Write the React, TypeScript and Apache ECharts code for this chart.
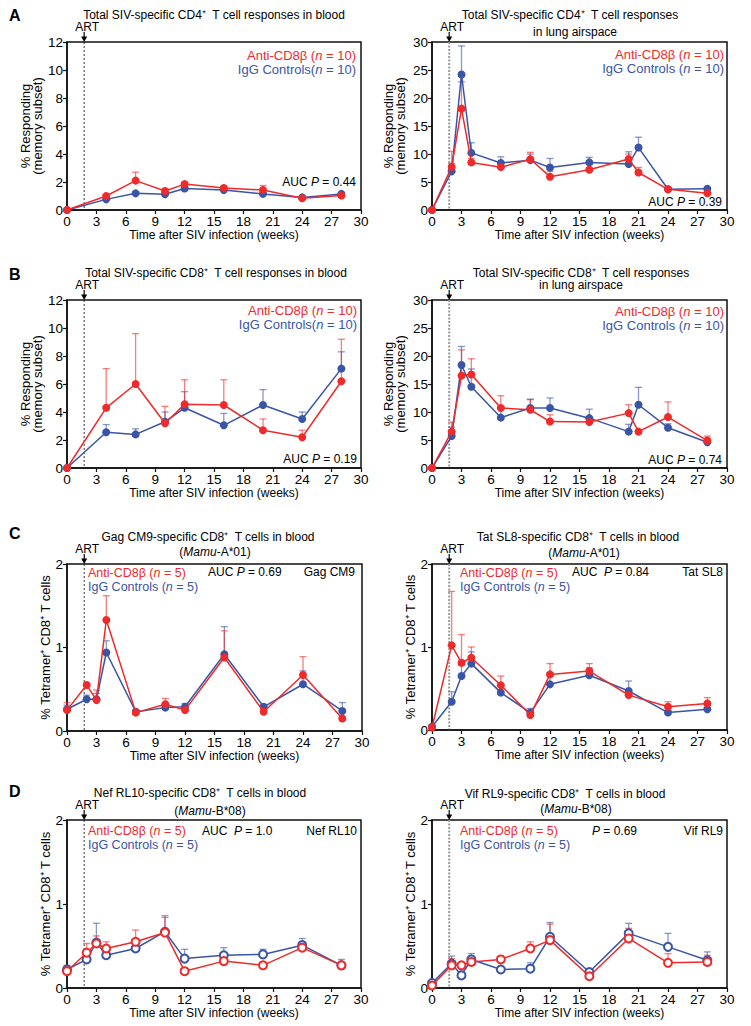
import React, { useEffect, useRef } from "react";
import * as echarts from "echarts";

const FONT = "'Liberation Sans', Arial, Helvetica, sans-serif";
const RED = "#EE2A2A";
const BLUE = "#3A55A5";
const RED_ERR = "rgba(238,42,42,0.6)";
const BLUE_ERR = "rgba(58,85,165,0.6)";
const ART_WEEK = 1.75;

// x positions (weeks after SIV infection)
const weeksBlood = [0, 4, 7, 10, 12, 16, 20, 24, 28];
const weeksLung = [0, 2, 3, 4, 7, 10, 12, 16, 20, 21, 24, 28];
const weeksTet = [0, 2, 3, 4, 7, 10, 12, 16, 20, 24, 28];

// A left: CD4 blood
const cd4BloodAnti = [0, 1.0, 2.1, 1.36, 1.85, 1.57, 1.43, 0.84, 1.03];
const cd4BloodAntiUp = [null, 1.1, 2.7, 1.5, 2.0, 1.72, 1.75, 0.9, 1.1];
const cd4BloodIgG = [0, 0.76, 1.19, 1.12, 1.53, 1.43, 1.15, 0.9, 1.15];
const cd4BloodIgGUp = [null, 0.85, 1.3, 1.2, 1.62, 1.55, 1.25, 1.0, 1.25];

// A right: CD4 lung
const cd4LungAnti = [0, 7.7, 18.1, 8.5, 7.65, 9.06, 5.95, 7.2, 9.1, 6.7, 3.7, 3.0];
const cd4LungAntiUp = [null, 10.5, 22.9, 9.2, 8.6, 10.3, 6.9, 7.6, 10.0, 7.6, 3.9, 3.2];
const cd4LungIgG = [0, 6.9, 24.2, 10.2, 8.4, 8.9, 7.6, 8.5, 8.2, 11.15, 3.7, 3.8];
const cd4LungIgGUp = [null, 8.3, 29.3, 12.0, 9.5, 10.0, 9.2, 9.4, 10.4, 13.0, 3.9, 4.0];

// B left: CD8 blood
const cd8BloodAnti = [0, 4.3, 6.0, 3.2, 4.55, 4.5, 2.7, 2.2, 6.2];
const cd8BloodAntiUp = [null, 7.1, 9.6, 4.4, 6.3, 6.3, 3.5, 2.7, 9.2];
const cd8BloodIgG = [0, 2.55, 2.4, 3.3, 4.3, 3.05, 4.5, 3.5, 7.1];
const cd8BloodIgGUp = [null, 3.1, 2.8, 4.0, 5.45, 3.9, 5.6, 4.0, 8.3];

// B right: CD8 lung
const cd8LungAnti = [0, 6.5, 16.5, 16.7, 10.7, 10.4, 8.3, 8.2, 9.8, 6.5, 9.1, 4.9];
const cd8LungAntiUp = [null, 8.2, 21.1, 19.5, 12.9, 12.2, 9.5, 8.6, 11.3, 6.8, 11.8, 5.7];
const cd8LungIgG = [0, 5.7, 18.4, 14.5, 9.0, 10.7, 10.7, 8.9, 6.5, 11.3, 7.2, 4.6];
const cd8LungIgGUp = [null, 7.3, 21.7, 17.7, 11.0, 12.3, 12.5, 10.5, 7.8, 14.4, 7.9, 4.9];

// C left: Gag CM9
const gagAnti = [0.25, 0.55, 0.37, 1.33, 0.22, 0.32, 0.25, 0.88, 0.23, 0.67, 0.15];
const gagAntiUp = [0.34, 0.57, 0.49, 1.62, 0.25, 0.39, 0.27, 1.2, 0.25, 0.89, 0.17];
const gagIgG = [0.26, 0.38, 0.38, 0.94, 0.23, 0.28, 0.29, 0.92, 0.29, 0.56, 0.24];
const gagIgGUp = [0.31, 0.43, 0.45, 1.08, 0.25, 0.3, 0.33, 1.25, 0.31, 0.72, 0.34];

// C right: Tat SL8
const tatAnti = [0.03, 1.02, 0.81, 0.87, 0.54, 0.18, 0.67, 0.71, 0.42, 0.28, 0.32];
const tatAntiUp = [0.05, 1.67, 1.15, 1.0, 0.65, 0.2, 0.8, 0.8, 0.45, 0.34, 0.39];
const tatIgG = [0.04, 0.34, 0.65, 0.8, 0.45, 0.21, 0.55, 0.66, 0.47, 0.21, 0.25];
const tatIgGUp = [0.06, 0.46, 0.78, 0.94, 0.48, 0.26, 0.69, 0.75, 0.59, 0.23, 0.27];

// D left: Nef RL10
const nefAnti = [0.2, 0.42, 0.53, 0.47, 0.55, 0.66, 0.2, 0.32, 0.27, 0.48, 0.27];
const nefAntiUp = [0.22, 0.53, 0.62, 0.55, 0.69, 0.84, 0.22, 0.35, 0.31, 0.55, 0.3];
const nefIgG = [0.22, 0.34, 0.54, 0.39, 0.47, 0.67, 0.35, 0.39, 0.4, 0.51, 0.27];
const nefIgGUp = [0.27, 0.36, 0.77, 0.41, 0.49, 0.86, 0.46, 0.48, 0.46, 0.59, 0.34];

// D right: Vif RL9
const vifAnti = [0.03, 0.27, 0.27, 0.31, 0.34, 0.47, 0.57, 0.14, 0.59, 0.3, 0.31];
const vifAntiUp = [0.04, 0.35, 0.3, 0.33, 0.37, 0.55, 0.76, 0.16, 0.71, 0.41, 0.39];
const vifIgG = [0.06, 0.29, 0.15, 0.34, 0.22, 0.23, 0.61, 0.19, 0.65, 0.49, 0.33];
const vifIgGUp = [0.07, 0.38, 0.2, 0.41, 0.25, 0.3, 0.78, 0.2, 0.77, 0.65, 0.43];

const X_NAME = "Time after SIV infection (weeks)";
const Y_NAME_RESP = "% Responding\n(memory subset)";
const Y_NAME_TET = "% Tetramer⁺ CD8⁺ T cells";

type Panel = {
  left: number; top: number; width: number; height: number;
  ymax: number; yint: number; weeks: number[];
  red: number[]; redUp: (number | null)[]; blue: number[]; blueUp: (number | null)[];
  hollow: boolean; yName: string; nameGap: number; right: boolean;
};

function buildOption() {
  const panels: Panel[] = [
    { left: 67, top: 42, width: 294, height: 168, ymax: 12, yint: 2, weeks: weeksBlood, red: cd4BloodAnti, redUp: cd4BloodAntiUp, blue: cd4BloodIgG, blueUp: cd4BloodIgGUp, hollow: false, yName: Y_NAME_RESP, nameGap: 24, right: false },
    { left: 432, top: 42, width: 295, height: 168, ymax: 30, yint: 5, weeks: weeksLung, red: cd4LungAnti, redUp: cd4LungAntiUp, blue: cd4LungIgG, blueUp: cd4LungIgGUp, hollow: false, yName: Y_NAME_RESP, nameGap: 26, right: true },
    { left: 67, top: 300, width: 294, height: 168, ymax: 12, yint: 2, weeks: weeksBlood, red: cd8BloodAnti, redUp: cd8BloodAntiUp, blue: cd8BloodIgG, blueUp: cd8BloodIgGUp, hollow: false, yName: Y_NAME_RESP, nameGap: 24, right: false },
    { left: 432, top: 300, width: 295, height: 168, ymax: 30, yint: 5, weeks: weeksLung, red: cd8LungAnti, redUp: cd8LungAntiUp, blue: cd8LungIgG, blueUp: cd8LungIgGUp, hollow: false, yName: Y_NAME_RESP, nameGap: 26, right: true },
    { left: 67, top: 564, width: 295, height: 167, ymax: 2, yint: 1, weeks: weeksTet, red: gagAnti, redUp: gagAntiUp, blue: gagIgG, blueUp: gagIgGUp, hollow: false, yName: Y_NAME_TET, nameGap: 11, right: false },
    { left: 432, top: 564, width: 295, height: 166, ymax: 2, yint: 1, weeks: weeksTet, red: tatAnti, redUp: tatAntiUp, blue: tatIgG, blueUp: tatIgGUp, hollow: false, yName: Y_NAME_TET, nameGap: 10, right: true },
    { left: 67, top: 820, width: 294, height: 168, ymax: 2, yint: 1, weeks: weeksTet, red: nefAnti, redUp: nefAntiUp, blue: nefIgG, blueUp: nefIgGUp, hollow: true, yName: Y_NAME_TET, nameGap: 11, right: false },
    { left: 432, top: 820, width: 295, height: 168, ymax: 2, yint: 1, weeks: weeksTet, red: vifAnti, redUp: vifAntiUp, blue: vifIgG, blueUp: vifIgGUp, hollow: true, yName: Y_NAME_TET, nameGap: 10, right: true },
  ];

  const grid: any[] = [];
  const xAxis: any[] = [];
  const yAxis: any[] = [];
  const series: any[] = [];

  const errRender = (color: string) => (params: any, api: any) => {
    const x = api.value(0);
    const m = api.value(1);
    const u = api.value(2);
    const p0 = api.coord([x, m]);
    const p1 = api.coord([x, u]);
    return {
      type: "group",
      children: [
        { type: "line", shape: { x1: p0[0], y1: p0[1], x2: p1[0], y2: p1[1] }, style: { stroke: color, lineWidth: 1.3 } },
        { type: "line", shape: { x1: p1[0] - 3.5, y1: p1[1], x2: p1[0] + 3.5, y2: p1[1] }, style: { stroke: color, lineWidth: 1.3 } },
      ],
    };
  };

  const artRender = (right: boolean) => (params: any, api: any) => {
    const top = api.coord([api.value(0), api.value(1)]);
    const bot = api.coord([api.value(0), 0]);
    const x = top[0];
    const y = top[1];
    return {
      type: "group",
      children: [
        {
          type: "line",
          shape: { x1: x, y1: y, x2: x, y2: bot[1] },
          style: right
            ? { stroke: "#9a9a9a", lineWidth: 2, lineDash: [2, 1.5] }
            : { stroke: "#222", lineWidth: 0.9, lineDash: [2, 2] },
        },
        { type: "line", shape: { x1: x, y1: y - 10, x2: x, y2: y - 4 }, style: { stroke: "#000", lineWidth: 1.2 } },
        { type: "polygon", shape: { points: [[x - 3, y - 5.5], [x + 3, y - 5.5], [x, y]] }, style: { fill: "#000" } },
        {
          type: "text",
          x: x + 3,
          y: y - 15,
          style: { text: "ART", fill: "#000", font: `12px ${FONT}`, align: "center", verticalAlign: "middle", textAlign: "center", textVerticalAlign: "middle" },
        },
      ],
    };
  };

  panels.forEach((p, i) => {
    grid.push({ left: p.left, top: p.top, width: p.width, height: p.height, show: true, borderColor: "#111", borderWidth: 1.5, containLabel: false });
    xAxis.push({
      gridIndex: i, type: "value", min: 0, max: 30, interval: 3,
      axisLine: { show: true, onZero: false, lineStyle: { color: "#111", width: 1.5 } },
      axisTick: { show: true, length: 4, lineStyle: { color: "#111", width: 1.2 } },
      axisLabel: { fontSize: 13.5, color: "#000", fontFamily: FONT, margin: 4 },
      splitLine: { show: false },
      name: X_NAME, nameLocation: "middle", nameGap: 19,
      nameTextStyle: { fontSize: 12, color: "#000", fontFamily: FONT },
    });
    yAxis.push({
      gridIndex: i, type: "value", min: 0, max: p.ymax, interval: p.yint,
      axisLine: { show: true, onZero: false, lineStyle: { color: "#111", width: 1.5 } },
      axisTick: { show: true, length: 4, lineStyle: { color: "#111", width: 1.2 } },
      axisLabel: { fontSize: 13.5, color: "#000", fontFamily: FONT, margin: 4 },
      splitLine: { show: false },
      name: p.yName, nameLocation: "middle", nameGap: p.nameGap, nameRotate: 90,
      nameTextStyle: { fontSize: 13, color: "#000", fontFamily: FONT, lineHeight: 12 },
    });

    const errData = (vals: number[], ups: (number | null)[]) =>
      p.weeks.map((w, j) => (ups[j] == null ? null : [w, vals[j], ups[j]])).filter((d) => d !== null);

    series.push({
      type: "custom", xAxisIndex: i, yAxisIndex: i, z: 1, silent: true,
      renderItem: errRender(BLUE_ERR), encode: { x: 0, y: 1 },
      data: errData(p.blue, p.blueUp),
    });
    series.push({
      type: "custom", xAxisIndex: i, yAxisIndex: i, z: 1, silent: true,
      renderItem: errRender(RED_ERR), encode: { x: 0, y: 1 },
      data: errData(p.red, p.redUp),
    });
    series.push({
      type: "custom", xAxisIndex: i, yAxisIndex: i, z: 0, silent: true, clip: false,
      renderItem: artRender(p.right), encode: { x: 0, y: 1 },
      data: [[ART_WEEK, p.ymax]],
    });
    series.push({
      type: "line", xAxisIndex: i, yAxisIndex: i, z: 3, silent: true,
      data: p.weeks.map((w, j) => [w, p.blue[j]]),
      symbol: p.hollow ? "emptyCircle" : "circle", symbolSize: 8,
      itemStyle: { color: BLUE, borderWidth: p.hollow ? 1.1 : 0 },
      lineStyle: { color: BLUE, width: 1.5 },
    });
    series.push({
      type: "line", xAxisIndex: i, yAxisIndex: i, z: 4, silent: true,
      data: p.weeks.map((w, j) => [w, p.red[j]]),
      symbol: p.hollow ? "emptyCircle" : "circle", symbolSize: 8,
      itemStyle: { color: RED, borderWidth: p.hollow ? 1.1 : 0 },
      lineStyle: { color: RED, width: 1.5 },
    });
  });

  const rs = (fill: string, size: number, italic = false) => ({
    fill, color: fill, fontSize: size, fontFamily: FONT, fontStyle: italic ? "italic" : "normal",
  });

  const txt = (x: number, y: number, text: string, align: string, size = 12, fill = "#000", weight = "normal") => ({
    type: "text", x, y, silent: true,
    style: {
      text, fill, font: `${weight} ${size}px ${FONT}`,
      align, verticalAlign: "middle", textAlign: align, textVerticalAlign: "middle",
      rich: { n: rs(fill, size), i: rs(fill, size, true) },
    },
  });

  const legend = (x: number, y: number, align: string, n: number, size: number, tight: boolean) => [
    txt(x, y, `{n|Anti-CD8β (}{i|n}{n| = ${n})}`, align, size, RED),
    txt(x, y + 14, `{n|IgG Controls${tight ? "" : " "}(}{i|n}{n| = ${n})}`, align, size, BLUE),
  ];

  const graphic: any[] = [
    // panel letters
    txt(9, 15, "A", "left", 16, "#000", "900"),
    txt(9, 274, "B", "left", 16, "#000", "900"),
    txt(9, 533, "C", "left", 16, "#000", "900"),
    txt(9, 791, "D", "left", 16, "#000", "900"),
    // titles
    txt(214, 15, "Total SIV-specific CD4⁺  T cell responses in blood", "center"),
    txt(570, 15, "Total SIV-specific CD4⁺  T cell responses", "center"),
    txt(575, 32, "in lung airspace", "center"),
    txt(216, 273, "Total SIV-specific CD8⁺  T cell responses in blood", "center"),
    txt(581, 273, "Total SIV-specific CD8⁺  T cell responses", "center"),
    txt(581, 285, "in lung airspace", "center"),
    txt(208, 537, "Gag CM9-specific CD8⁺  T cells in blood", "center"),
    txt(215, 552, "{n|(}{i|Mamu}{n|-A*01)}", "center"),
    txt(578, 537, "Tat SL8-specific CD8⁺  T cells in blood", "center"),
    txt(584, 553, "{n|(}{i|Mamu}{n|-A*01)}", "center"),
    txt(200, 793, "Nef RL10-specific CD8⁺  T cells in blood", "center"),
    txt(210, 811, "{n|(}{i|Mamu}{n|-B*08)}", "center"),
    txt(565, 794, "Vif RL9-specific CD8⁺  T cells in blood", "center"),
    txt(576, 809, "{n|(}{i|Mamu}{n|-B*08)}", "center"),
    // legends
    ...legend(356, 55, "right", 10, 13, true),
    ...legend(724, 54, "right", 10, 13, false),
    ...legend(357, 310, "right", 10, 13, true),
    ...legend(724, 311, "right", 10, 13, false),
    ...legend(88, 573, "left", 5, 12.5, false),
    ...legend(460, 573, "left", 5, 12.5, false),
    ...legend(88, 831, "left", 5, 12.5, false),
    ...legend(460, 831, "left", 5, 12.5, false),
    // statistics
    txt(356, 182, "{n|AUC }{i|P}{n| = 0.44}", "right"),
    txt(722, 202, "{n|AUC }{i|P}{n| = 0.39}", "right"),
    txt(357, 459, "{n|AUC }{i|P}{n| = 0.19}", "right"),
    txt(722, 460, "{n|AUC }{i|P}{n| = 0.74}", "right"),
    txt(208, 572, "{n|AUC }{i|P}{n| = 0.69}", "left"),
    txt(355, 572, "Gag CM9", "right"),
    txt(572, 572, "{n|AUC  }{i|P}{n| = 0.84}", "left"),
    txt(723, 572, "Tat SL8", "right"),
    txt(202, 831, "{n|AUC  }{i|P}{n| = 1.0}", "left"),
    txt(357, 831, "Nef RL10", "right"),
    txt(592, 831, "{i|P}{n| = 0.69}", "left"),
    txt(723, 831, "Vif RL9", "right"),
  ];

  return {
    animation: false,
    backgroundColor: "#fff",
    textStyle: { fontFamily: FONT },
    grid, xAxis, yAxis, series, graphic,
  };
}

export default function App() {
  const ref = useRef<HTMLDivElement>(null);
  useEffect(() => {
    if (!ref.current) return;
    const chart = echarts.init(ref.current, null, { renderer: "svg" });
    chart.setOption(buildOption() as any);
    return () => chart.dispose();
  }, []);
  return (
    <div
      ref={ref}
      style={{ position: "absolute", left: 0, top: 0, width: 751, height: 1026, background: "#fff" }}
    />
  );
}
